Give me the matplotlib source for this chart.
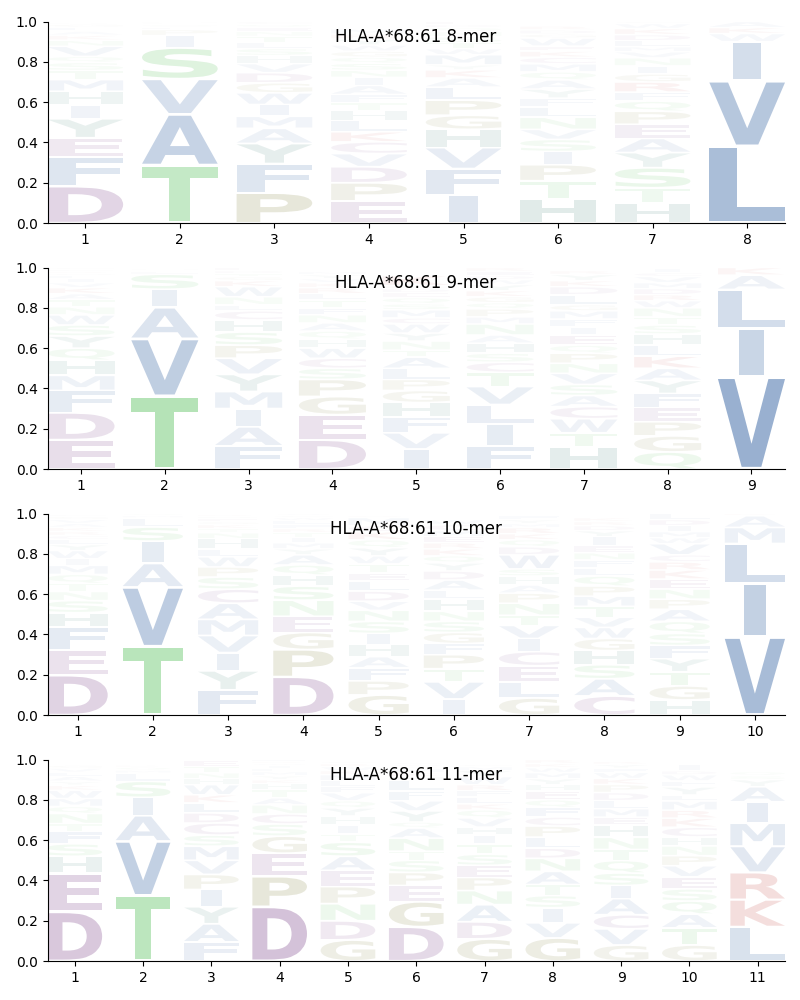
import matplotlib
matplotlib.use("Agg")
import matplotlib.pyplot as plt
from matplotlib.font_manager import FontProperties
from matplotlib.patches import PathPatch
from matplotlib.textpath import TextPath
from matplotlib.transforms import Affine2D

# HLA-A*68:61 sequence logos: letters from bottom to top for each position
letters_8 = ["DFEYIHMTSQVNKALGRC", "TAVSIPLQKM", "PFYAMIWGDVHSLTNEQC", "EPDVCKLHTFAINSQGWYRM",
             "IFVHGPLAKYMWTSNQDERC", "HTPISVNLFYAQMCKEWGDR", "HTSYAEPQFRGINVMLDKWC", "LVIWKA"]
heights_8 = [[.183, .145, .095, .095, .068, .068, .058, .045, .04, .03, .05, .03, .025, .02, .02, .015, .008, .006],
             [.287, .253, .175, .155, .06, .03, .012, .012, .008, .008],
             [.15, .145, .10, .075, .06, .058, .058, .05, .05, .045, .04, .035, .03, .03, .025, .02, .015, .014],
             [.11, .09, .08, .065, .058, .05, .055, .05, .04, .04, .045, .04, .035, .035, .03, .03, .03, .03, .025, .025],
             [.14, .13, .105, .09, .07, .075, .065, .045, .04, .025, .05, .03, .03, .03, .025, .02, .015, .015, .012, .008],
             [.12, .09, .08, .065, .06, .05, .06, .05, .045, .045, .045, .04, .04, .033, .03, .025, .04, .02, .02, .02],
             [.10, .075, .10, .075, .07, .07, .065, .05, .045, .05, .04, .04, .04, .03, .025, .03, .03, .03, .025, .01],
             [.381, .325, .194, .04, .03, .03]]

letters_9 = ["EDFMHQYSWNTAKVILGRPC", "TVAISLFMQ", "FAIMYVPSHCLNWKGTDE", "DEGPSCWHQANFTLRKVYM",
             "IVFHGPLATNYWCMSQEDRK", "FILVTCSHANMPQGKYWDER", "HTWCASVNPQEIFMGLDKYR", "QGPEFYAKLHSTNWRDMVCI", "VILAK"]
heights_9 = [[.145, .135, .11, .075, .075, .06, .06, .055, .05, .04, .035, .03, .03, .025, .02, .015, .01, .01, .01, .01],
             [.362, .285, .155, .09, .075, .012, .008, .008, .005],
             [.115, .095, .09, .085, .085, .08, .065, .065, .06, .045, .03, .04, .05, .03, .02, .015, .015, .015],
             [.145, .125, .09, .085, .055, .05, .05, .045, .04, .04, .04, .035, .04, .03, .03, .025, .02, .02, .015],
             [.10, .08, .08, .07, .06, .055, .055, .055, .035, .045, .04, .045, .03, .04, .03, .03, .025, .02, .015, .05],
             [.115, .11, .095, .09, .07, .05, .045, .05, .04, .055, .035, .04, .03, .03, .03, .03, .025, .02, .02, .02],
             [.11, .07, .07, .06, .055, .055, .055, .05, .05, .04, .05, .04, .04, .04, .03, .05, .04, .03, .03, .02],
             [.085, .08, .07, .07, .07, .065, .06, .06, .055, .055, .045, .04, .045, .035, .03, .03, .03, .03, .02, .02],
             [.458, .238, .195, .071, .038]]

letters_10 = ["DEFHSNTQMIWYLCRKAVGP", "TVAISLMQ", "FYIVMACSPWLHNTKGEDRQ", "DPGENSHQAYMITRFLWCVK",
              "GPFAHISNVDLETWYQKCMR", "IVTPFGSNHLADYQKREMCW", "GLECIVTNPAHSWDQKRMYF", "CASHGWVTMPQLFNEIYDRK",
              "HGTYFSQAPNEKRCVWMIDL", "VILMAK"]
heights_10 = [[.198, .125, .115, .07, .06, .045, .04, .045, .045, .033, .04, .03, .025, .02, .02, .02, .02, .02, .015, .01],
              [.34, .295, .118, .11, .07, .045, .012, .01],
              [.125, .095, .09, .085, .08, .08, .07, .06, .05, .05, .04, .05, .03, .02, .02, .015, .015, .01, .01, .005],
              [.19, .135, .085, .08, .08, .07, .055, .05, .05, .03, .03, .025, .025, .02, .02, .02, .015, .01, .01, .01],
              [.10, .07, .065, .055, .06, .055, .06, .055, .045, .05, .05, .04, .045, .04, .04, .04, .04, .03, .04, .01],
              [.08, .085, .065, .07, .055, .055, .055, .05, .06, .045, .05, .045, .04, .035, .035, .03, .03, .03, .03, .025],
              [.085, .08, .08, .07, .065, .065, .05, .06, .05, .04, .045, .035, .07, .04, .035, .03, .03, .02, .02, .02],
              [.095, .085, .07, .07, .06, .055, .05, .055, .05, .05, .05, .04, .04, .035, .035, .045, .03, .025, .02, .02],
              [.075, .07, .07, .065, .065, .06, .06, .06, .05, .05, .05, .045, .04, .035, .055, .03, .03, .03, .03, .03],
              [.388, .266, .197, .08, .058, .011]]

letters_11 = ["DEHSFTNQMWKYALVG", "TVAISLMQK", "FAYIPVMSCDLKWHNTE", "DPEGSCNATHKYMLIWRF",
              "GDNPEASTIHYQVFLMKWRC", "DGEPSTNAQYVFLHKMRWC", "GDANPESTIHVQKLFRWYMC", "GVISTANDLPCFQEHYMWKR",
              "GVCAISQTNHEMLDPKWFYR", "GTAQSEVPNHCKRMLYFWDI", "LKRVMIAYSQ"]
heights_11 = [[.245, .19, .085, .062, .06, .04, .05, .035, .04, .04, .025, .02, .025, .02, .02, .015],
              [.325, .27, .127, .09, .08, .04, .015, .015, .01],
              [.095, .09, .085, .085, .075, .07, .07, .055, .06, .05, .05, .04, .05, .03, .03, .03, .03],
              [.27, .15, .115, .085, .06, .05, .045, .035, .04, .03, .02, .02, .02, .015, .015, .01, .01, .01],
              [.105, .095, .085, .085, .08, .07, .07, .04, .045, .045, .04, .035, .04, .03, .03, .03, .02, .02, .015, .01],
              [.17, .125, .08, .065, .06, .045, .065, .05, .03, .055, .05, .05, .05, .02, .02, .02, .01, .01, .01],
              [.11, .085, .085, .07, .065, .06, .055, .05, .045, .04, .045, .04, .03, .035, .03, .03, .04, .03, .02, .01],
              [.115, .075, .075, .06, .055, .065, .065, .05, .055, .055, .045, .047, .038, .045, .03, .03, .03, .025, .02, .02],
              [.08, .08, .07, .08, .065, .062, .062, .055, .06, .06, .04, .042, .04, .04, .04, .03, .03, .02, .02, .015],
              [.08, .085, .068, .065, .06, .06, .055, .05, .048, .045, .048, .045, .04, .045, .03, .04, .03, .03, .02, .03],
              [.17, .135, .135, .13, .115, .105, .075, .035, .02, .02]]

titles = ["HLA-A*68:61 8-mer", "HLA-A*68:61 9-mer", "HLA-A*68:61 10-mer", "HLA-A*68:61 11-mer"]
all_letters = [letters_8, letters_9, letters_10, letters_11]
all_heights = [heights_8, heights_9, heights_10, heights_11]

# colour per residue group, alpha comes from the letter height
BLUE = (0.13, 0.33, 0.60)
GREEN = (0.20, 0.70, 0.22)
PURPLE = (0.39, 0.12, 0.45)
OLIVE = (0.39, 0.39, 0.05)
TEAL = (0.05, 0.38, 0.32)
RED = (0.70, 0.05, 0.0)
colors = {}
for group, col in [("AFILMVW", BLUE), ("STNQ", GREEN), ("DEC", PURPLE), ("PG", OLIVE), ("HY", TEAL), ("KR", RED)]:
    for res in group:
        colors[res] = col

font = FontProperties(family="DejaVu Sans", weight="bold")


def draw_letter(ax, res, pos, bottom, height):
    path = TextPath((0, 0), res, size=1, prop=font)
    box = path.get_extents()
    # the I keeps a narrow stem, all other letters fill the column
    width = 0.30 if res == "I" else 0.80
    margin = 0.003 + 0.018 * height
    trans = (Affine2D()
             .translate(-box.x0, -box.y0)
             .scale(width / box.width, (height - 2 * margin) / box.height)
             .translate(pos - width / 2, bottom + margin))
    patch = PathPatch(path, facecolor=colors[res], alpha=min(height, 1.0), lw=0,
                      transform=trans + ax.transData)
    ax.add_patch(patch)


fig = plt.figure(figsize=(8, 10), dpi=100)

for i in range(4):
    top_px = 21.5 + 246 * i
    ax = fig.add_axes([47.5 / 800, 1 - (top_px + 201.6) / 1000, 737.5 / 800, 201.6 / 1000])
    n_pos = len(all_letters[i])
    for p in range(n_pos):
        bottom = 0
        for res, h in zip(all_letters[i][p], all_heights[i][p]):
            draw_letter(ax, res, p + 1, bottom, h)
            bottom += h
    ax.set_xlim(0.6, n_pos + 0.4)
    ax.set_ylim(0, 1)
    ax.set_xticks(range(1, n_pos + 1))
    ax.set_yticks([0, 0.2, 0.4, 0.6, 0.8, 1.0])
    ax.spines["top"].set_visible(False)
    ax.spines["right"].set_visible(False)
    ax.text(0.499, 0.925, titles[i], transform=ax.transAxes, ha="center", va="center", fontsize=12)

fig.savefig("out.png", dpi=100)
